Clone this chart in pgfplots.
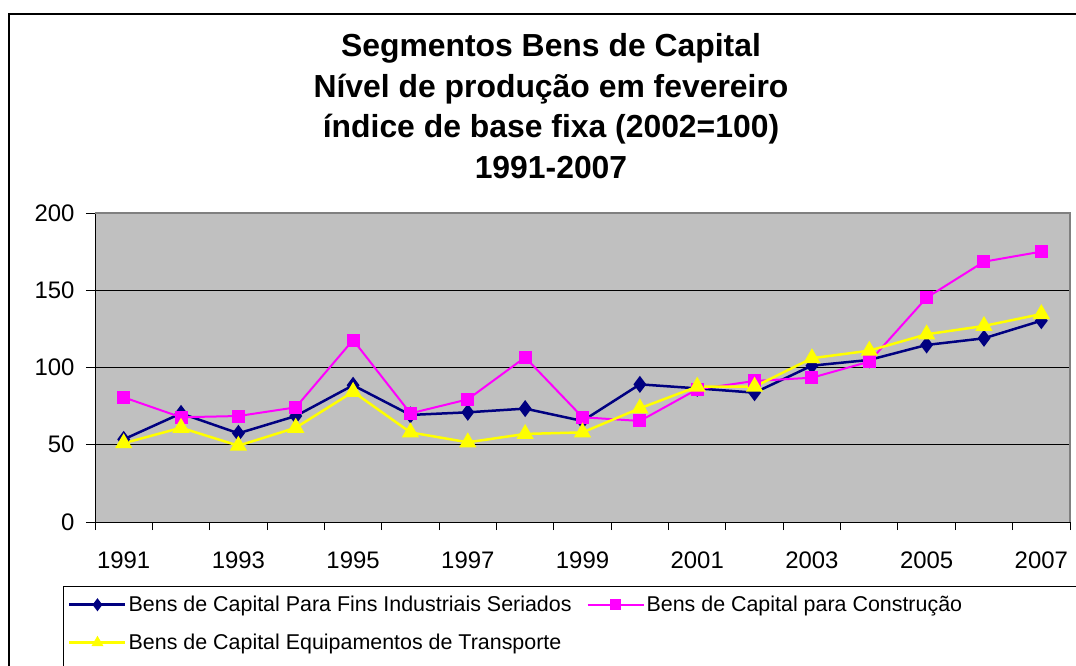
\documentclass[border=0pt]{standalone}
\usepackage{fontspec}
\setmainfont{Liberation Sans}
\usepackage{pgfplots}
\pgfplotsset{compat=1.18}
\definecolor{navyser}{HTML}{000080}
\definecolor{magser}{HTML}{FF00FF}
\definecolor{yelser}{HTML}{FFFF00}
\definecolor{plotgray}{HTML}{C0C0C0}
\definecolor{bordergray}{HTML}{808080}

\begin{document}
\begin{tikzpicture}[x=1bp,y=1bp]
\fill[white] (0,0) rectangle (1076,-666);
\draw[black, line width=1.2bp] (9,-720) -- (9,-14) -- (1100,-14);
\node[font=\fontsize{32}{41}\selectfont\bfseries, align=center, anchor=north, inner sep=0pt]
  at (551,-33) {Segmentos Bens de Capital\\Nível de produção em fevereiro\\índice de base fixa (2002=100)\\1991-2007};

\begin{axis}[
  at={(95bp,-522bp)}, anchor=south west,
  scale only axis, width=975bp, height=309bp,
  xmin=-0.5, xmax=16.5, ymin=0, ymax=200,
  clip=false,
  axis x line*=bottom, axis y line*=left,
  axis line style={-, black, line width=1bp},
  every outer x axis line/.append style={-},
  every outer y axis line/.append style={-},
  axis background/.style={fill=plotgray},
  ytick={0,50,...,200},
  xtick={0,2,...,16},
  xticklabels={1991,1993,1995,1997,1999,2001,2003,2005,2007},
  minor xtick={-0.5,0.5,...,16.5},
  major x tick style={draw=none},
  tick align=outside,
  major tick length=9bp, minor tick length=8bp,
  tick style={black, line width=1bp},
  ymajorgrids, major grid style={black, line width=1bp},
  ticklabel style={font=\fontsize{24}{28}\selectfont},
  /pgf/number format/assume math mode=true,
  xticklabel style={yshift=-17bp},
  yticklabel style={xshift=-8bp},
  legend style={at={(-0.0328,-0.2039)}, anchor=north west, draw=none, fill=none,
    font=\fontsize{21.5}{25}\selectfont, row sep=17bp, inner xsep=5bp, inner ysep=9bp,
    /tikz/every even column/.append style={column sep=13bp}},
  legend columns=2, legend cell align=left,
  legend image code/.code={\draw[mark repeat=2,mark phase=2,#1,mark size=4.5bp] plot coordinates {(0bp,0bp) (28bp,0bp) (56bp,0bp)};},
]
\addplot[navyser, line width=2.5bp, mark=diamond*, mark size=6.5bp, mark options={solid}] coordinates {
(0,53.5) (1,70.3) (2,57.4) (3,68.6) (4,88.5) (5,69.3) (6,71.0) (7,73.4) (8,65.4)
(9,89.1) (10,86.5) (11,83.7) (12,101.2) (13,104.9) (14,114.6) (15,118.9) (16,130.3)};
\addlegendentry{Bens de Capital Para Fins Industriais Seriados}
\addplot[magser, line width=2bp, mark=square*, mark size=5.5bp, mark options={solid}] coordinates {
(0,80.7) (1,67.8) (2,68.6) (3,74.2) (4,117.8) (5,70.3) (6,79.4) (7,106.6) (8,67.8)
(9,65.4) (10,85.9) (11,91.3) (12,93.4) (13,103.8) (14,145.2) (15,168.5) (16,175.0)};
\addlegendentry{Bens de Capital para Construção}
\addplot[yelser, line width=2.5bp, mark=triangle*, mark size=7.5bp, mark options={solid}] coordinates {
(0,51.0) (1,61.0) (2,49.4) (3,61.0) (4,84.3) (5,58.0) (6,51.6) (7,57.0) (8,58.0)
(9,73.6) (10,87.6) (11,87.6) (12,106.0) (13,110.9) (14,121.5) (15,126.9) (16,134.6)};
\addlegendentry{Bens de Capital Equipamentos de Transporte}
\end{axis}
\draw[bordergray, line width=1.5bp] (95,-213) -- (1070,-213) -- (1070,-522);
\draw[black, line width=1bp] (1100,-586) -- (63,-586) -- (63,-720);
\pgfresetboundingbox
\path (0,0) rectangle (1076,-666);
\end{tikzpicture}
\end{document}
